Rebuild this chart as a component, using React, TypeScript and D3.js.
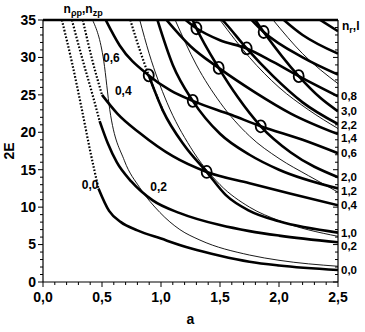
import React from 'react';
import * as d3 from 'd3';

// axis ticks
const xTicks = [0, 0.5, 1, 1.5, 2, 2.5];
const yTicks = [0, 5, 10, 15, 20, 25, 30, 35];

// thick levels, labelled n_r,l at the right edge
const lev00 = [[0.47, 12.5], [0.56, 9.5], [0.66, 8.0], [0.8, 6.9], [1.0, 5.8], [1.25, 4.5], [1.5, 3.5], [1.75, 2.7], [2.0, 2.2], [2.5, 1.6]];
const lev02 = [[0.48, 21.5], [0.55, 18.5], [0.625, 16.0], [0.75, 13.4], [0.93, 10.9], [1.16, 9.2], [1.5, 7.6], [1.75, 6.8], [2.0, 6.2], [2.5, 5.3]];
const lev10 = [[0.896, 27.6], [1.016, 22.9], [1.2, 18.2], [1.387, 14.7], [1.55, 11.6], [1.75, 9.5], [2.0, 8.1], [2.5, 6.6]];
const lev04 = [[0.5, 25.0], [0.63, 22.5], [0.82, 19.9], [1.1, 16.8], [1.387, 14.7], [1.75, 13.2], [2.1, 11.8], [2.5, 10.25]];
const lev12 = [[0.96, 35.5], [1.1, 29.0], [1.269, 24.2], [1.5, 19.8], [1.75, 17.0], [2.0, 15.0], [2.5, 12.5]];
const lev20 = [[1.2, 37.5], [1.3, 33.9], [1.489, 28.6], [1.65, 24.7], [1.845, 20.8], [2.1, 17.3], [2.5, 14.0]];
const lev06 = [[0.5, 36.0], [0.65, 31.6], [0.896, 27.6], [1.08, 25.6], [1.269, 24.2], [1.6, 22.3], [1.845, 20.8], [2.2, 19.0], [2.5, 17.2]];
const lev14 = [[1.02, 35.5], [1.25, 31.5], [1.489, 28.6], [1.8, 25.3], [2.1, 22.5], [2.5, 19.75]];
const lev22 = [[1.4, 37.0], [1.55, 34.5], [1.726, 31.2], [1.95, 27.5], [2.2, 24.0], [2.5, 21.1]];
const lev30 = [[1.7, 37.3], [1.87, 33.4], [2.167, 27.5], [2.35, 24.6], [2.5, 22.8]];
const lev08 = [[1.1, 36.5], [1.3, 33.9], [1.5, 32.3], [1.726, 31.2], [1.95, 29.4], [2.167, 27.5], [2.5, 24.8]];

// unlabelled upper levels
const up1 = [[1.6, 38.0], [1.87, 33.4], [2.2, 30.0], [2.5, 27.7]];
const up2 = [[1.9, 37.0], [2.2, 33.0], [2.5, 30.5]];
const up3 = [[2.2, 36.5], [2.5, 33.5]];

// thin curves
const thin1 = [[0.42, 35], [0.515, 29.5], [0.566, 23.0], [0.69, 16.2], [0.82, 12.6], [0.99, 9.3], [1.16, 7.0], [1.33, 5.6], [1.75, 3.6], [2.0, 2.9], [2.5, 2.1]];
const thin2 = [[0.82, 35], [0.9, 30.5], [1.05, 24.0], [1.25, 18.0], [1.5, 13.0], [1.75, 10.0], [2.0, 8.2], [2.5, 6.1]];
const thin3 = [[1.12, 35], [1.3, 29.0], [1.5, 24.0], [1.75, 19.5], [2.0, 16.5], [2.25, 14.2], [2.5, 12.0]];
const thin4 = [[1.5, 35], [1.75, 30.0], [2.0, 26.0], [2.25, 23.0], [2.5, 20.5]];
const thin5 = [[1.95, 35], [2.2, 30.5], [2.5, 26.5]];

// dotted plate limits (n_rho p, n_z p)
const dot00 = [[0.16, 35], [0.25, 29.0], [0.33, 23.0], [0.4, 17.5], [0.47, 12.5]];
const dot02 = [[0.245, 35], [0.33, 30.0], [0.42, 25.0], [0.48, 21.5]];
const dot04 = [[0.337, 35], [0.42, 29.5], [0.5, 25.0]];
const dot10 = [[0.74, 35], [0.82, 31.0], [0.896, 27.6], [1.016, 22.9]];

// crossings
const circles = [[0.896, 27.6], [1.269, 24.2], [1.387, 14.7], [1.3, 33.9], [1.489, 28.6], [1.726, 31.2], [1.845, 20.8], [1.87, 33.4], [2.167, 27.5]];

const rightLabels = ['0,0', '0,2', '1,0', '0,4', '1,2', '2,0', '0,6', '1,4', '2,2', '3,0', '0,8'];
const labelledLevels = [lev00, lev02, lev10, lev04, lev12, lev20, lev06, lev14, lev22, lev30, lev08];
const leftLabels = [['0,0', 0.4, 13.0], ['0,2', 0.98, 12.7], ['0,4', 0.68, 25.6], ['0,6', 0.58, 29.9]];

export default function App() {
  const margin = { top: 20, right: 27, bottom: 50, left: 43 };
  const width = 365, height = 332;
  const x = d3.scaleLinear().domain([0, 2.5]).range([margin.left, width - margin.right]);
  const y = d3.scaleLinear().domain([0, 35]).range([height - margin.bottom, margin.top]);
  const line = d3.line().x(d => x(d[0])).y(d => y(d[1])).curve(d3.curveMonotoneX);
  const font = "'Liberation Sans Narrow', 'Liberation Sans', Arial, sans-serif";
  const thick = [...labelledLevels, up1, up2, up3];
  const thins = [thin1, thin2, thin3, thin4, thin5];
  const dots = [dot00, dot02, dot04, dot10];
  const x0 = x(0), x1 = x(2.5), y0 = y(0), y1 = y(35);

  // right labels sit at the curve ends, pushed apart a little where they crowd
  const ly = labelledLevels.map(d => y(d[d.length - 1][1]));
  for (let i = ly.length - 2; i >= 0; i--) {
    if (ly[i] - ly[i + 1] < 13.5) ly[i] = ly[i + 1] + 13.5;
  }

  return (
    <svg width={width} height={height} style={{ position: 'absolute', left: 0, top: 0, background: '#fff' }}
      fontFamily={font} fontWeight="bold">
      <defs>
        <clipPath id="plot"><rect x={x0} y={y1} width={x1 - x0} height={y0 - y1} /></clipPath>
      </defs>
      <g clipPath="url(#plot)" fill="none" stroke="#000">
        {thins.map((d, i) => <path key={'t' + i} d={line(d)} strokeWidth={0.9} />)}
        {thick.map((d, i) => <path key={'k' + i} d={line(d)} strokeWidth={2.6} />)}
        {dots.map((d, i) => <path key={'d' + i} d={line(d)} strokeWidth={2.2} strokeDasharray="1.6,1.8" />)}
        {circles.map((c, i) => <ellipse key={'c' + i} cx={x(c[0])} cy={y(c[1])} rx={5} ry={6} strokeWidth={1.8} />)}
      </g>
      {/* frame */}
      <g stroke="#000" fill="none">
        <line x1={x0} x2={x0} y1={y1} y2={y0} strokeWidth={1.2} />
        <line x1={x0} x2={x1} y1={y0} y2={y0} strokeWidth={1.2} />
        <line x1={x1} x2={x1} y1={y1} y2={y0} strokeWidth={1.2} />
        <line x1={x0} x2={x1} y1={y1} y2={y1} strokeWidth={2.4} />
        {d3.range(0, 36, 1).map(v => (
          <g key={'yt' + v}>
            <line x1={x0} x2={x0 - (v % 5 === 0 ? 5 : 3)} y1={y(v)} y2={y(v)} strokeWidth={1} />
            <line x1={x1} x2={x1 - (v % 5 === 0 ? 5 : 3)} y1={y(v)} y2={y(v)} strokeWidth={1} />
          </g>
        ))}
        {d3.range(0, 26, 1).map(k => (
          <line key={'xt' + k} x1={x(k / 10)} x2={x(k / 10)} y1={y0} y2={y0 + (k % 5 === 0 ? 5 : 3)} strokeWidth={1} />
        ))}
      </g>
      <g fontSize={14} fill="#000">
        {yTicks.map(v => (
          <text key={'yl' + v} x={x0 - 7} y={y(v)} dy="0.35em" textAnchor="end">{v}</text>
        ))}
        {xTicks.map(v => (
          <text key={'xl' + v} x={x(v)} y={y0 + 20} textAnchor="middle">{d3.format('.1f')(v).replace('.', ',')}</text>
        ))}
        <text x={x(1.25)} y={height - 8} textAnchor="middle">a</text>
        <text transform={`translate(14,${y(17.5)}) rotate(-90)`} textAnchor="middle">2E</text>
      </g>
      <g fontSize={12} fill="#000">
        {rightLabels.map((t, i) => (
          <text key={'rl' + i} x={x1 + 3} y={ly[i]} dy="0.35em" fontSize={11.5}>{t}</text>
        ))}
        {leftLabels.map((l, i) => (
          <text key={'ll' + i} x={x(l[1] as number)} y={y(l[2] as number)} dy="0.35em" textAnchor="middle">{l[0]}</text>
        ))}
        <text x={x1 + 4} y={y1 + 10}>n<tspan fontSize={9} dy={3}>r</tspan><tspan dy={-3}>,l</tspan></text>
        <text x={x(0.34)} y={13} textAnchor="middle">n<tspan fontSize={9} dy={3}>ρp</tspan><tspan dy={-3}>,n</tspan><tspan fontSize={9} dy={3}>zp</tspan></text>
      </g>
    </svg>
  );
}
